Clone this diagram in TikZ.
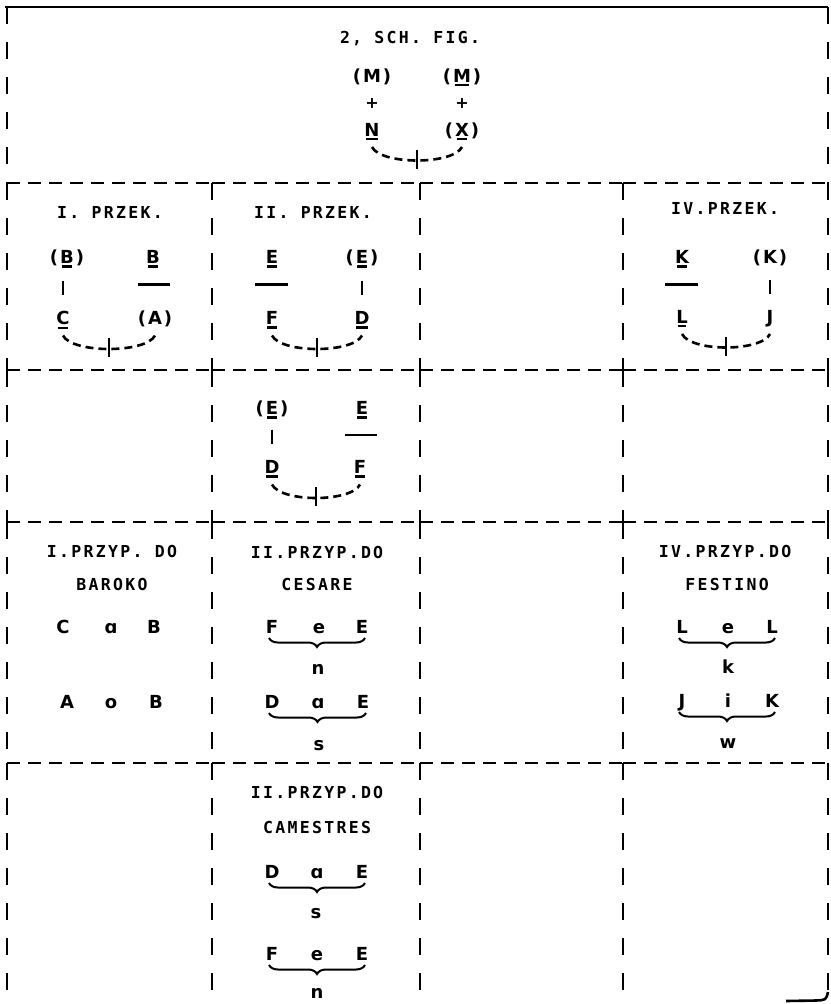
\documentclass[tikz,border=0pt]{standalone}
\usepackage{fontspec}
\usetikzlibrary{calc,decorations.pathreplacing}
\newfontfamily\ttlfont[LetterSpace=14]{DejaVu Sans Mono}
\newfontfamily\letfont{DejaVu Sans}
\newsavebox\ulbx
\newcommand\ulb[1]{\sbox\ulbx{#1}\vtop{\copy\ulbx\kern1.8pt\nointerlineskip\hbox to\wd\ulbx{\hss\vrule height 2.6pt depth 0pt width \dimexpr\wd\ulbx-3pt\relax\hss}}}
\newcommand\prn[1]{(\kern2pt#1\kern2pt)}
\newcommand\smilearc[2]{%
  \draw[arcd] ($(#1.base)+(0,11)$) .. controls +(9,18) and +(-9,18) .. ($(#2.base)+(0,11)$);
  \draw[tk] ($(#1.base)!0.5!(#2.base)+(0,13.5)$) -- +(0,19);}
\newcommand\ubrace[2]{\draw[brc] ($(#1.base)+(-3,5)$) -- ($(#2.base)+(3,5)$);}
\begin{document}
\begin{tikzpicture}[x=1pt,y=-1pt,
 frameline/.style={line width=2.6pt},
 hd/.style={line width=2.6pt,dash pattern=on 13pt off 8pt},
 vd/.style={line width=2.6pt,dash pattern=on 17pt off 18pt},
 ttl/.style={font=\ttlfont\bfseries\fontsize{16.5}{18}\selectfont,inner sep=0pt,anchor=base},
 lt/.style={font=\letfont\bfseries\fontsize{18}{19}\selectfont,inner sep=0pt,anchor=base},
 plusf/.style={font=\letfont\bfseries\fontsize{16}{17}\selectfont,inner sep=0pt,anchor=base},
 arcd/.style={line width=2.6pt,dash pattern=on 8pt off 5pt},
 tk/.style={line width=2.6pt},
 barl/.style={line width=2.6pt},
 brc/.style={line width=2pt,decorate,decoration={brace,mirror,amplitude=9pt}}]
\useasboundingbox (0,0) rectangle (830,1004);
\fill[white] (0,0) rectangle (830,1004);
% frame and grid
\draw[frameline] (5,7) -- (828,7);
\foreach \ya/\yb in {7/183,183/370,370/522,522/763,763/1004}{
  \draw[vd] (7,\ya) -- (7,\yb);
  \draw[vd] (828,\ya) -- (828,\yb);}
\foreach \x in {212,420,623}{\foreach \ya/\yb in {183/370,370/522,522/763,763/1004}{\draw[vd] (\x,\ya) -- (\x,\yb);}}
\foreach \y in {183,370,522,763}{\foreach \xa/\xb in {7/212,212/420,420/623,623/828}{\draw[hd] (\xa,\y) -- (\xb,\y);}}
\draw[frameline] (786,1001) -- (816,1000.5) .. controls (826,1000) .. (828,992);
% row 1
\node[ttl] (t0) at (410,43) {2, SCH. FIG.};
\node[lt] (m1) at (372,82) {\prn{M}};
\node[lt] (m2) at (462,82) {\prn{\ulb{M}}};
\node[plusf] (p1) at (372,108.5) {+};
\node[plusf] (p2) at (462,108.5) {+};
\node[lt] (n1) at (372,136) {\ulb{N}};
\node[lt] (x1) at (462,136) {\prn{\ulb{X}}};
\smilearc{n1}{x1}
% row 2
\node[ttl] (t1) at (110,218) {I. PRZEK.};
\node[ttl] (t2) at (313,218) {II. PRZEK.};
\node[ttl] (t4) at (725,214) {IV.PRZEK.};
\node[lt] (b1) at (67,263.5) {\prn{\ulb{B}}};
\node[lt] (b2) at (153,263.5) {\ulb{B}};
\node[lt] (c1) at (63,324.5) {\ulb{C}};
\node[lt] (a1) at (155,324.5) {\prn{A}};
\draw[barl] ($(c1.base)+(0,-44)$) -- ($(c1.base)+(0,-30)$);
\draw[barl] ($(b2.base)+(-15,21)$) -- ($(b2.base)+(17,21)$);
\smilearc{c1}{a1}
\node[lt] (e1) at (272,263.5) {\ulb{E}};
\node[lt] (e2) at (362,263.5) {\prn{\ulb{E}}};
\node[lt] (f1) at (272,324.5) {\ulb{F}};
\node[lt] (d1) at (362,324.5) {\ulb{D}};
\draw[barl] ($(e1.base)+(-17,21)$) -- ($(e1.base)+(16,21)$);
\draw[barl] ($(d1.base)+(0,-44)$) -- ($(d1.base)+(0,-30)$);
\smilearc{f1}{d1}
\node[lt] (k1) at (682,263.5) {\ulb{K}};
\node[lt] (k2) at (770,263.5) {\prn{K}};
\node[lt] (l1) at (682,323) {\ulb{L}};
\node[lt] (j1) at (770,323) {J};
\draw[barl] ($(k1.base)+(-17,21)$) -- ($(k1.base)+(16,21)$);
\draw[barl] ($(j1.base)+(0,-43)$) -- ($(j1.base)+(0,-29)$);
\smilearc{l1}{j1}
% row 3
\node[lt] (e3) at (272,414.5) {\prn{\ulb{E}}};
\node[lt] (e4) at (362,414.5) {\ulb{E}};
\node[lt] (d2) at (272,473.5) {\ulb{D}};
\node[lt] (f2) at (360,473.5) {\ulb{F}};
\draw[barl] ($(d2.base)+(0,-44)$) -- ($(d2.base)+(0,-30)$);
\draw[barl] ($(e4.base)+(-17,20.5)$) -- ($(e4.base)+(15,20.5)$);
\smilearc{d2}{f2}
% row 4, column 1
\node[ttl] (t5) at (112,557) {I.PRZYP. DO};
\node[ttl] (t6) at (112,590) {BAROKO};
\node[lt] (c2) at (63,633) {C};
\node[lt] (a2) at (111,633) {ɑ};
\node[lt] (b3) at (154,633) {B};
\node[lt] (a3) at (67,708) {A};
\node[lt] (o1) at (111,708) {o};
\node[lt] (b4) at (156,708) {B};
% row 4, column 2
\node[ttl] (t7) at (317,558) {II.PRZYP.DO};
\node[ttl] (t8) at (317,590) {CESARE};
\node[lt] (f3) at (272,633) {F};
\node[lt] (e5) at (319,633) {e};
\node[lt] (e6) at (362,633) {E};
\ubrace{f3}{e6}
\node[lt] (n2) at (318,674.5) {n};
\node[lt] (d3) at (272,708) {D};
\node[lt] (a4) at (318,708) {ɑ};
\node[lt] (e7) at (363,708) {E};
\ubrace{d3}{e7}
\node[lt] (s1) at (319,750) {s};
% row 4, column 4
\node[ttl] (t9) at (725,557) {IV.PRZYP.DO};
\node[ttl] (t10) at (727,590) {FESTINO};
\node[lt] (l2) at (682,633) {L};
\node[lt] (e8) at (728,633) {e};
\node[lt] (l3) at (772,633) {L};
\ubrace{l2}{l3}
\node[lt] (k3) at (728,673) {k};
\node[lt] (j2) at (682,707) {J};
\node[lt] (i1) at (728,707) {i};
\node[lt] (k4) at (772,707) {K};
\ubrace{j2}{k4}
\node[lt] (w1) at (728,748) {w};
% row 5, column 2
\node[ttl] (t11) at (317,798) {II.PRZYP.DO};
\node[ttl] (t12) at (317,833) {CAMESTRES};
\node[lt] (d4) at (272,878) {D};
\node[lt] (a5) at (317,878) {ɑ};
\node[lt] (e9) at (362,878) {E};
\ubrace{d4}{e9}
\node[lt] (s2) at (316,918) {s};
\node[lt] (f4) at (272,960) {F};
\node[lt] (e10) at (317,960) {e};
\node[lt] (e11) at (362,960) {E};
\ubrace{f4}{e11}
\node[lt] (n3) at (317,998) {n};
\end{tikzpicture}
\end{document}
